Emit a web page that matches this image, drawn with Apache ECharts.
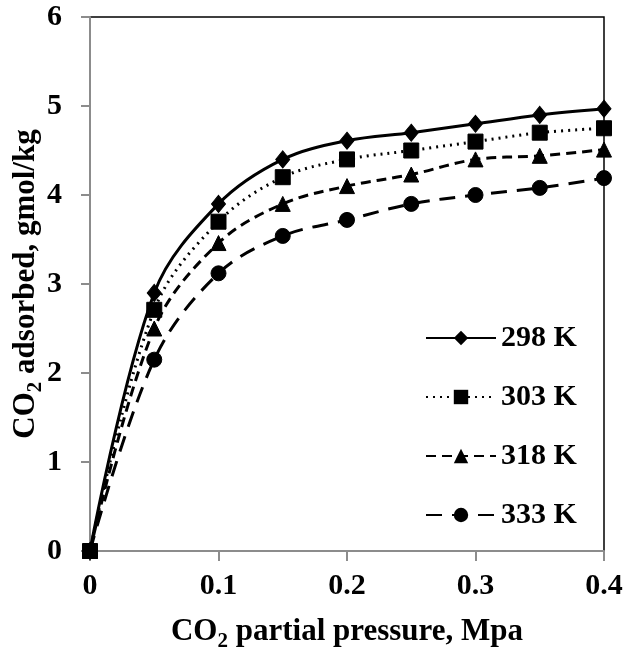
<!DOCTYPE html>
<html>
<head>
<meta charset="utf-8">
<script src="https://cdn.jsdelivr.net/npm/echarts@6/dist/echarts.min.js"></script>
<style>
html,body{margin:0;padding:0;background:#fff;}
#chart{width:624px;height:653px;}
</style>
</head>
<body>
<div id="chart"></div>
<script>
const pressure = [0, 0.05, 0.1, 0.15, 0.2, 0.25, 0.3, 0.35, 0.4];
const seriesNames = ['298 K', '303 K', '318 K', '333 K'];
const k298 = [0, 2.90, 3.90, 4.40, 4.61, 4.70, 4.80, 4.90, 4.97];
const k303 = [0, 2.71, 3.70, 4.20, 4.40, 4.50, 4.60, 4.70, 4.75];
const k318 = [0, 2.50, 3.46, 3.90, 4.10, 4.23, 4.40, 4.44, 4.51];
const k333 = [0, 2.15, 3.12, 3.54, 3.72, 3.90, 4.00, 4.08, 4.19];
const yTicks = [0, 1, 2, 3, 4, 5, 6];
const xTicks = [0, 0.1, 0.2, 0.3, 0.4];

const FONT = '"Liberation Serif", "Times New Roman", serif';
const rich = {
  m: {fontSize: 31, fontWeight: 'bold', fontFamily: FONT, color: '#000', lineHeight: 34, verticalAlign: 'top'},
  s: {fontSize: 21, fontWeight: 'bold', fontFamily: FONT, color: '#000', lineHeight: 34, verticalAlign: 'top', padding: [15, 0, 0, 0]}
};
function pair(arr) { return pressure.map((p, i) => [p, arr[i]]); }

const styles = [
  {data: k298, symbol: 'diamond', size: [14, 17], dash: 'solid'},
  {data: k303, symbol: 'rect', size: 15, dash: [2, 5]},
  {data: k318, symbol: 'triangle', size: 15, dash: [10, 6]},
  {data: k333, symbol: 'circle', size: 15, dash: [16, 10]}
];

const chart = echarts.init(document.getElementById('chart'), null, {renderer: 'canvas'});
chart.setOption({
  animation: false,
  backgroundColor: '#fff',
  grid: {left: 90, right: 20, top: 17, bottom: 102, show: true, borderColor: '#000', borderWidth: 1.5,
         containLabel: false, outerBoundsMode: 'none'},
  xAxis: {
    type: 'value', min: xTicks[0], max: xTicks[xTicks.length - 1], interval: 0.1,
    axisLine: {show: true, lineStyle: {color: '#8c8c8c', width: 2}},
    axisTick: {show: true, inside: false, length: 10, lineStyle: {color: '#8c8c8c', width: 2}},
    splitLine: {show: false},
    axisLabel: {margin: 20, fontSize: 30, fontWeight: 'bold', fontFamily: FONT, color: '#000'},
    name: '{m|CO}{s|2}{m| partial pressure, Mpa}',
    nameLocation: 'middle', nameGap: 65,
    nameTextStyle: {rich: rich}
  },
  yAxis: {
    type: 'value', min: yTicks[0], max: yTicks[yTicks.length - 1], interval: 1,
    axisLine: {show: true, lineStyle: {color: '#8c8c8c', width: 2}},
    axisTick: {show: true, inside: false, length: 9, lineStyle: {color: '#8c8c8c', width: 2}},
    splitLine: {show: false},
    axisLabel: {margin: 28, fontSize: 30, fontWeight: 'bold', fontFamily: FONT, color: '#000'},
    name: '{m|CO}{s|2}{m| adsorbed, gmol/kg}',
    nameLocation: 'middle', nameGap: 46, nameMoveOverlap: false,
    nameTextStyle: {rich: rich}
  },
  legend: {
    orient: 'vertical', left: 420, top: 317,
    itemWidth: 70, itemHeight: 18, itemGap: 27,
    textStyle: {fontSize: 30, fontWeight: 'bold', fontFamily: FONT, color: '#000', lineHeight: 32},
    data: seriesNames
  },
  series: styles.map((s, i) => ({
    name: seriesNames[i],
    type: 'line',
    data: pair(s.data),
    smooth: 0.35,
    symbol: s.symbol,
    symbolSize: s.size,
    z: i === 1 ? 5 : 3,
    lineStyle: {color: '#000', width: 3, type: s.dash},
    itemStyle: {color: '#000', borderColor: '#000'}
  }))
});
</script>
</body>
</html>
